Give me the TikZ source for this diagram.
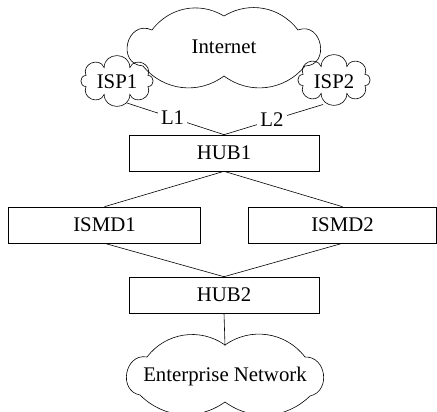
\documentclass[tikz,border=0pt]{standalone}
\usepackage{fontspec}
\setmainfont{Liberation Serif}
\begin{document}
\begin{tikzpicture}[x=1pt,y=-1pt, line width=0.6pt,
  every node/.style={font=\fontsize{20.8}{24}\selectfont},
  box/.style={draw, rectangle, minimum width=190pt, minimum height=36pt, inner sep=0pt},
  txt/.style={anchor=base, inner sep=0pt},
  lbl/.style={fill=white, inner sep=3pt}]
\useasboundingbox (0,0) rectangle (437,412);
% clouds (outlines)
\draw[shift={(224,48)}] (-72,-18) to[bend left=42] (0,-32) to[bend left=42] (74,-18)
  to[bend left=100, looseness=1.8] (81,18) to[bend left=44] (0,28) to[bend left=44] (-81,18)
  to[bend left=100, looseness=1.9] (-72,-18) -- cycle;
\draw[shift={(225,374)}] (-78,-17) to[bend left=44] (0,-29) to[bend left=44] (80,-17)
  to[bend left=85, looseness=1.4] (85,22) to[bend left=40] (0,28) to[bend left=40] (-85,21)
  to[bend left=90, looseness=1.5] (-78,-17) -- cycle;
\draw[shift={(117,81)}] (22.5:33.5 and 14.5)
  \foreach \a in {67.5,112.5,...,382.5} { to[bend left=90, looseness=1.6] (\a:33.5 and 14.5) } -- cycle;
\draw[shift={(334,80)}] (22.5:33.5 and 14.5)
  \foreach \a in {67.5,112.5,...,382.5} { to[bend left=90, looseness=1.6] (\a:33.5 and 14.5) } -- cycle;
% texts and boxes
\node[txt] (inet) at (224,53.3) {Internet};
\node[txt] (isp1) at (117,89) {ISP1};
\node[txt] (isp2) at (334,88.5) {ISP2};
\node[txt] (ent) at (225,381.5) {Enterprise Network};
\node[box] (hub1) at (224,153) {HUB1};
\node[box, minimum width=192pt] (ismd1) at (104.5,225) {ISMD1};
\node[box, minimum width=188pt] (ismd2) at (342.5,225) {ISMD2};
\node[box] (hub2) at (224,295) {HUB2};
\coordinate (isp1b) at ([xshift=10pt,yshift=-14pt]isp1.base);
\coordinate (isp2b) at ([xshift=-11pt,yshift=-16pt]isp2.base);
\coordinate (entTop) at ([yshift=36pt]ent.base);
% connectors
\draw (isp1b) -- node[lbl, pos=0.47] (l1) {L1} (hub1.north);
\draw (isp2b) -- node[lbl, pos=0.515] (l2) {L2} (hub1.north);
\draw (hub1.south) -- (ismd1.north);
\draw (hub1.south) -- (ismd2.north);
\draw (ismd1.south) -- (hub2.north);
\draw (ismd2.south) -- (hub2.north);
\draw (hub2.south) -- (entTop);
\end{tikzpicture}
\end{document}
